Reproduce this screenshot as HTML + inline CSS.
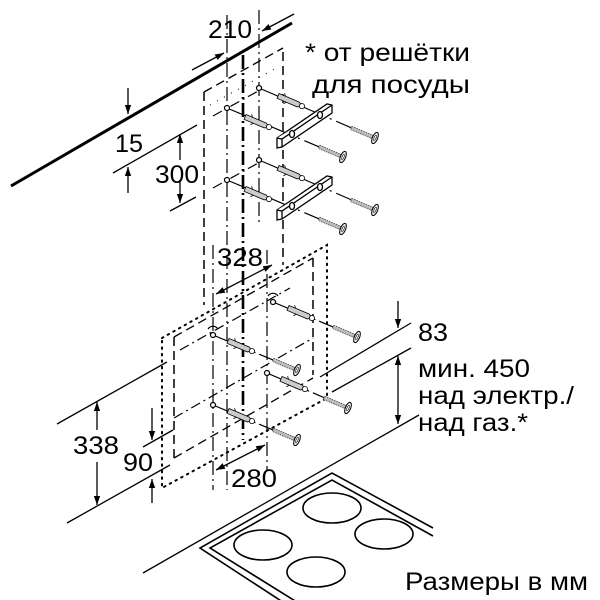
<!DOCTYPE html>
<html><head><meta charset="utf-8"><style>
html,body{margin:0;padding:0;background:#fff}
svg{display:block}
text{font-family:"Liberation Sans","DejaVu Sans",sans-serif;fill:#000}
</style></head><body>
<svg width="600" height="600" viewBox="0 0 600 600" xmlns="http://www.w3.org/2000/svg">
<defs>
<marker id="ah" viewBox="0 0 10 10" refX="10" refY="5" markerWidth="9" markerHeight="9" markerUnits="userSpaceOnUse" orient="auto-start-reverse">
<path d="M0,1.5 L10,5 L0,8.5 Z" fill="#000"/></marker>
<g id="dowel"><path d="M-13,-2.6 L9,-2.6 L13,0 L9,2.6 L-13,2.6 Z" fill="#ccc" stroke="#000" stroke-width="0.8"/><path d="M-6,-2.6 l-2,-2.5 M-3,2.6 l-2,2.5" stroke="#000" stroke-width="0.8"/><circle cx="13" cy="0" r="2.6" fill="#fff" stroke="#000" stroke-width="0.8"/></g>
<g id="tip"><rect x="-26" y="-1.8" width="23" height="3.6" fill="#bbb" stroke="#000" stroke-width="0.5" stroke-dasharray="1.5 1"/><ellipse cx="0" cy="0" rx="2.6" ry="6" fill="#eee" stroke="#000" stroke-width="1"/><ellipse cx="0" cy="0" rx="1" ry="3" fill="none" stroke="#000" stroke-width="0.6"/></g>
</defs>

<g stroke="#000" fill="none">
<line x1="11" y1="186" x2="292" y2="23" stroke-width="3"/>
<line x1="113" y1="173" x2="197" y2="125" stroke-width="1.3"/>
<line x1="128" y1="88" x2="128" y2="114" stroke-width="1.3" marker-end="url(#ah)"/>
<line x1="128" y1="193" x2="128" y2="167" stroke-width="1.3" marker-end="url(#ah)"/>
<line x1="170" y1="211" x2="196" y2="197" stroke-width="1.3"/>
<line x1="180" y1="160" x2="180" y2="134" stroke-width="1.3" marker-end="url(#ah)"/>
<line x1="180" y1="180" x2="180" y2="203" stroke-width="1.3" marker-end="url(#ah)"/>

<line x1="204" y1="92" x2="204" y2="305" stroke-width="1.5" stroke-dasharray="9 5"/>
<line x1="283" y1="52" x2="283" y2="265" stroke-width="1.5" stroke-dasharray="9 5"/>
<line x1="204" y1="92" x2="283" y2="48" stroke-width="1.3" stroke-dasharray="9 5"/>
<line x1="210" y1="105" x2="280" y2="66" stroke-width="1" stroke-dasharray="1 7"/>

<line x1="227" y1="15" x2="227" y2="490" stroke-width="1.2" stroke-dasharray="14 4 2 4"/>
<line x1="243" y1="55" x2="243" y2="440" stroke-width="2.6" stroke-dasharray="14 4 2 4"/>
<line x1="259" y1="10" x2="259" y2="225" stroke-width="1.2" stroke-dasharray="14 4 2 4"/>
<line x1="213" y1="245" x2="213" y2="490" stroke-width="1.2" stroke-dasharray="14 4 2 4"/>
<line x1="267" y1="250" x2="267" y2="470" stroke-width="1.2" stroke-dasharray="14 4 2 4"/>

<line x1="192" y1="70" x2="224" y2="53" stroke-width="1.3" marker-end="url(#ah)"/>
<line x1="294" y1="14" x2="262" y2="31" stroke-width="1.3" marker-end="url(#ah)"/>

<line x1="213" y1="116" x2="260" y2="90" stroke-width="1.2" stroke-dasharray="10 4 2 4"/>
<line x1="213" y1="188" x2="260" y2="162" stroke-width="1.2" stroke-dasharray="10 4 2 4"/>

<path d="M162,338 L327,245 L327,398 L162,488 Z" stroke-width="2" stroke-dasharray="1.5 5" stroke-linecap="round"/>
<line x1="174" y1="337" x2="174" y2="460" stroke-width="1.5" stroke-dasharray="9 5"/>
<line x1="313" y1="258" x2="313" y2="375" stroke-width="1.5" stroke-dasharray="9 5"/>
<line x1="174" y1="337" x2="313" y2="258" stroke-width="1.3" stroke-dasharray="9 5"/>
<line x1="174" y1="458" x2="313" y2="378" stroke-width="1.3" stroke-dasharray="9 5"/>
<line x1="174" y1="418" x2="313" y2="338" stroke-width="1.2" stroke-dasharray="10 4 2 4"/>
<line x1="180" y1="350" x2="290" y2="288" stroke-width="1.2" stroke-dasharray="10 4 2 4"/>

<line x1="216" y1="294" x2="272" y2="265" stroke-width="1.3" marker-start="url(#ah)" marker-end="url(#ah)"/>
<line x1="216" y1="470" x2="265" y2="445" stroke-width="1.3" marker-start="url(#ah)" marker-end="url(#ah)"/>

<line x1="57" y1="424" x2="167" y2="362" stroke-width="1.3"/>
<line x1="143" y1="447" x2="173" y2="430" stroke-width="1.3"/>
<line x1="67" y1="523" x2="170" y2="465" stroke-width="1.3"/>
<line x1="320" y1="377" x2="411" y2="323" stroke-width="1.3"/>
<line x1="332" y1="392" x2="411" y2="348" stroke-width="1.3"/>
<line x1="143" y1="573" x2="419" y2="415" stroke-width="1.3"/>
<line x1="97" y1="430" x2="97" y2="402" stroke-width="1.3" marker-end="url(#ah)"/>
<line x1="97" y1="462" x2="97" y2="505" stroke-width="1.3" marker-end="url(#ah)"/>
<line x1="152" y1="408" x2="152" y2="440" stroke-width="1.3" marker-end="url(#ah)"/>
<line x1="152" y1="503" x2="152" y2="479" stroke-width="1.3" marker-end="url(#ah)"/>
<line x1="398" y1="301" x2="398" y2="328" stroke-width="1.3" marker-end="url(#ah)"/>
<line x1="398" y1="356" x2="398" y2="424" stroke-width="1.3" marker-start="url(#ah)" marker-end="url(#ah)"/>

<line x1="259" y1="88" x2="375" y2="138" stroke-width="1.2" stroke-dasharray="30 5 2 5"/>
<line x1="227" y1="108" x2="343" y2="157" stroke-width="1.2" stroke-dasharray="30 5 2 5"/>
<line x1="259" y1="160" x2="375" y2="210" stroke-width="1.2" stroke-dasharray="30 5 2 5"/>
<line x1="227" y1="180" x2="343" y2="229" stroke-width="1.2" stroke-dasharray="30 5 2 5"/>
<line x1="273" y1="302" x2="357" y2="337" stroke-width="1.2" stroke-dasharray="40 4 2 4"/>
<line x1="213" y1="335" x2="297" y2="370" stroke-width="1.2" stroke-dasharray="40 4 2 4"/>
<line x1="267" y1="373" x2="348" y2="408" stroke-width="1.2" stroke-dasharray="40 4 2 4"/>
<line x1="213" y1="405" x2="297" y2="440" stroke-width="1.2" stroke-dasharray="40 4 2 4"/>
<g fill="#fff" stroke-width="1.2">
<circle cx="259" cy="88" r="2.5"/><circle cx="227" cy="108" r="2.5"/>
<circle cx="259" cy="160" r="2.5"/><circle cx="227" cy="180" r="2.5"/>
<circle cx="273" cy="302" r="2.5"/><circle cx="213" cy="335" r="2.5"/>
<circle cx="267" cy="373" r="2.5"/><circle cx="213" cy="405" r="2.5"/>
</g>
<path d="M268,296 a6,6 0 0 1 10,0 M208,329 a6,6 0 0 1 10,0" stroke-width="1.2"/>
</g>

<use href="#dowel" transform="translate(290,101) rotate(23)"/>
<use href="#dowel" transform="translate(257,122) rotate(23)"/>
<use href="#dowel" transform="translate(290,173) rotate(23)"/>
<use href="#dowel" transform="translate(257,194) rotate(23)"/>
<use href="#dowel" transform="translate(300,313) rotate(23)"/>
<use href="#dowel" transform="translate(240,346) rotate(23)"/>
<use href="#dowel" transform="translate(293,384) rotate(23)"/>
<use href="#dowel" transform="translate(240,416) rotate(23)"/>
<use href="#tip" transform="translate(375,138) rotate(23)"/>
<use href="#tip" transform="translate(343,157) rotate(23)"/>
<use href="#tip" transform="translate(375,210) rotate(23)"/>
<use href="#tip" transform="translate(343,229) rotate(23)"/>
<use href="#tip" transform="translate(357,337) rotate(23)"/>
<use href="#tip" transform="translate(297,370) rotate(23)"/>
<use href="#tip" transform="translate(348,408) rotate(23)"/>
<use href="#tip" transform="translate(297,440) rotate(23)"/>

<g stroke="#000" stroke-width="1.3" fill="#fff">
<path d="M277,138 L327,104 L332,105 L332,113 L282,147 L277,148 Z"/>
<path d="M277,138 L282,139 L332,105 M282,139 L282,147"/>
<ellipse cx="292" cy="134" rx="2.5" ry="3.5"/><ellipse cx="320" cy="115" rx="2.5" ry="3.5"/>
<path d="M277,210 L327,176 L332,177 L332,185 L282,219 L277,220 Z"/>
<path d="M277,210 L282,211 L332,177 M282,211 L282,219"/>
<ellipse cx="292" cy="206" rx="2.5" ry="3.5"/><ellipse cx="320" cy="187" rx="2.5" ry="3.5"/>
</g>

<g stroke="#000" stroke-width="1.6" fill="none">
<path d="M295,610 L200,548 L332,473 L433,528"/>
<path d="M300,604 L210,548 L332,480 L433,536"/>
<ellipse cx="332" cy="508" rx="29" ry="15"/>
<ellipse cx="263" cy="545" rx="29" ry="15"/>
<ellipse cx="384" cy="534" rx="29" ry="15"/>
<ellipse cx="316" cy="572" rx="29" ry="15"/>
</g>

<g font-size="25">
<text x="208" y="38" textLength="44" lengthAdjust="spacingAndGlyphs">210</text>
<text x="305" y="61" textLength="165" lengthAdjust="spacingAndGlyphs">* от решётки</text>
<text x="312" y="93" textLength="158" lengthAdjust="spacingAndGlyphs">для посуды</text>
<text x="115" y="152" textLength="28" lengthAdjust="spacingAndGlyphs">15</text>
<text x="155" y="183" textLength="44" lengthAdjust="spacingAndGlyphs">300</text>
<text x="217" y="266" textLength="46" lengthAdjust="spacingAndGlyphs">328</text>
<text x="418" y="341" textLength="30" lengthAdjust="spacingAndGlyphs">83</text>
<text x="418" y="377" textLength="112" lengthAdjust="spacingAndGlyphs">мин. 450</text>
<text x="418" y="404" textLength="156" lengthAdjust="spacingAndGlyphs">над электр./</text>
<text x="418" y="431" textLength="110" lengthAdjust="spacingAndGlyphs">над газ.*</text>
<text x="73" y="454" textLength="46" lengthAdjust="spacingAndGlyphs">338</text>
<text x="123" y="471" textLength="30" lengthAdjust="spacingAndGlyphs">90</text>
<text x="231" y="487" textLength="46" lengthAdjust="spacingAndGlyphs">280</text>
<text x="405" y="590" textLength="183" lengthAdjust="spacingAndGlyphs">Размеры в мм</text>
</g>
</svg>
</body></html>
